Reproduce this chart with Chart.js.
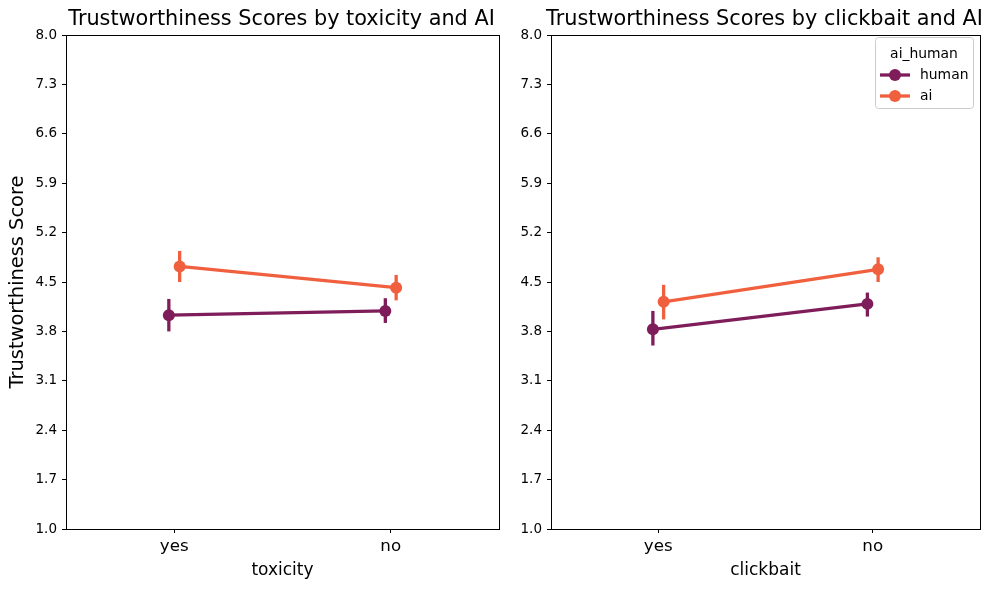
<!DOCTYPE html>
<html>
<head>
<meta charset="utf-8">
<script src="https://cdn.jsdelivr.net/npm/chart.js@4"></script>
<style>
  body { margin: 0; background: #fff; }
  #wrap { position: relative; width: 992px; height: 590px; }
  .box { position: absolute; top: 0; height: 590px; }
</style>
</head>
<body>
<div id="wrap">
  <div class="box" style="left:0;width:505px"><canvas id="c1"></canvas></div>
  <div class="box" style="left:505px;width:487px"><canvas id="c2"></canvas></div>
</div>
<script>
// categories and series
const categories = ["yes", "no"];
const groups = ["human", "ai"];
const colors = {human: "#7f1d5a", ai: "#f0603f"};
const yTicks = [1.0, 1.7, 2.4, 3.1, 3.8, 4.5, 5.2, 5.9, 6.6, 7.3, 8.0];

// toxicity panel
const toxHuman = [4.03, 4.09];
const toxHumanLo = [3.80, 3.92];
const toxHumanHi = [4.26, 4.27];
const toxAi = [4.72, 4.42];
const toxAiLo = [4.50, 4.24];
const toxAiHi = [4.94, 4.60];

// clickbait panel
const cbHuman = [3.83, 4.19];
const cbHumanLo = [3.60, 4.01];
const cbHumanHi = [4.09, 4.35];
const cbAi = [4.22, 4.68];
const cbAiLo = [3.97, 4.50];
const cbAiHi = [4.46, 4.85];

const FONT = "'DejaVu Sans', sans-serif";
const dodge = {human: -0.025, ai: 0.025};

function series(name, vals, lo, hi) {
  return {
    label: name,
    data: vals.map((v, i) => ({x: i + dodge[name], y: v})),
    lo: lo, hi: hi,
    borderColor: colors[name],
    backgroundColor: colors[name],
    pointBackgroundColor: colors[name],
    pointBorderWidth: 0,
    pointRadius: 6,
    borderWidth: 3.3,
    showLine: true,
    tension: 0
  };
}

const errorBars = {
  id: "errorBars",
  beforeDatasetsDraw(chart) {
    const ctx = chart.ctx, xs = chart.scales.x, ys = chart.scales.y;
    chart.data.datasets.forEach(ds => {
      ctx.save();
      ctx.strokeStyle = ds.borderColor;
      ctx.lineWidth = 3.3;
      ds.data.forEach((p, i) => {
        const x = xs.getPixelForValue(p.x);
        ctx.beginPath();
        ctx.moveTo(x, ys.getPixelForValue(ds.lo[i]));
        ctx.lineTo(x, ys.getPixelForValue(ds.hi[i]));
        ctx.stroke();
      });
      ctx.restore();
    });
  }
};

const frame = {
  id: "frame",
  afterDraw(chart, args, opts) {
    const ctx = chart.ctx, a = chart.chartArea;
    ctx.save();
    ctx.strokeStyle = "#000";
    ctx.lineWidth = 1;
    ctx.strokeRect(Math.round(a.left) + 0.5, Math.round(a.top) + 0.5,
      Math.round(a.right - a.left), Math.round(a.bottom - a.top));
    ctx.fillStyle = "#000";
    ctx.font = "20.8px " + FONT;
    ctx.textAlign = "center";
    ctx.textBaseline = "middle";
    ctx.fillText(opts.title, (a.left + a.right) / 2 - 1, a.top - 15);
    if (opts.legend) {
      const bx = a.right - 105, by = a.top + 2, bw = 98, bh = 71;
      ctx.fillStyle = "rgba(255,255,255,0.8)";
      ctx.strokeStyle = "#cccccc";
      ctx.beginPath();
      ctx.roundRect(bx + 0.5, by + 0.5, bw, bh, 3);
      ctx.fill();
      ctx.stroke();
      ctx.fillStyle = "#000";
      ctx.font = "13.9px " + FONT;
      ctx.fillText("ai_human", bx + bw / 2, by + 17);
      groups.forEach((g, i) => {
        const y = by + 38 + i * 21;
        ctx.strokeStyle = colors[g];
        ctx.lineWidth = 3.3;
        ctx.beginPath();
        ctx.moveTo(bx + 5, y);
        ctx.lineTo(bx + 35, y);
        ctx.stroke();
        ctx.fillStyle = colors[g];
        ctx.beginPath();
        ctx.arc(bx + 20, y, 6, 0, Math.PI * 2);
        ctx.fill();
        ctx.fillStyle = "#000";
        ctx.textAlign = "left";
        ctx.fillText(g, bx + 45, y);
        ctx.textAlign = "center";
      });
    }
    ctx.restore();
  }
};

function makeChart(id, xName, title, datasets, yWidth, padRight, showYTitle, legend) {
  return new Chart(document.getElementById(id), {
    type: "scatter",
    data: {datasets: datasets},
    plugins: [errorBars, frame],
    options: {
      responsive: true,
      maintainAspectRatio: false,
      animation: false,
      layout: {padding: {top: 35, right: padRight, left: 0, bottom: 0}},
      plugins: {
        legend: {display: false},
        tooltip: {enabled: false},
        frame: {title: title, legend: legend}
      },
      scales: {
        x: {
          type: "linear",
          min: -0.5, max: 1.5,
          afterBuildTicks: s => { s.ticks = categories.map((c, i) => ({value: i})); },
          afterFit: s => { s.height = 61; },
          ticks: {
            color: "#000",
            font: {size: 16.7, family: FONT},
            padding: 4,
            callback: (v) => categories[v]
          },
          grid: {drawOnChartArea: false, color: "#000", tickLength: 4},
          border: {display: false},
          title: {display: true, text: xName, color: "#000",
                  font: {size: 17, family: FONT}, padding: {top: 0, bottom: 9}}
        },
        y: {
          min: 1.0, max: 8.0,
          afterBuildTicks: s => { s.ticks = yTicks.map(v => ({value: v})); },
          afterFit: s => { s.width = yWidth; },
          ticks: {
            color: "#000",
            font: {size: 13.5, family: FONT},
            padding: 5,
            callback: v => v.toFixed(1)
          },
          grid: {drawOnChartArea: false, color: "#000", tickLength: 4},
          border: {display: false},
          title: {display: showYTitle, text: "Trustworthiness Score", color: "#000",
                  font: {size: 19.4, family: FONT}, padding: {top: 6, bottom: 0}}
        }
      }
    }
  });
}

makeChart("c1", "toxicity", "Trustworthiness Scores by toxicity and AI", [
  series("human", toxHuman, toxHumanLo, toxHumanHi),
  series("ai", toxAi, toxAiLo, toxAiHi)
], 66, 5, true, false);

makeChart("c2", "clickbait", "Trustworthiness Scores by clickbait and AI", [
  series("human", cbHuman, cbHumanLo, cbHumanHi),
  series("ai", cbAi, cbAiLo, cbAiHi)
], 46, 12, false, true);
</script>
</body>
</html>
